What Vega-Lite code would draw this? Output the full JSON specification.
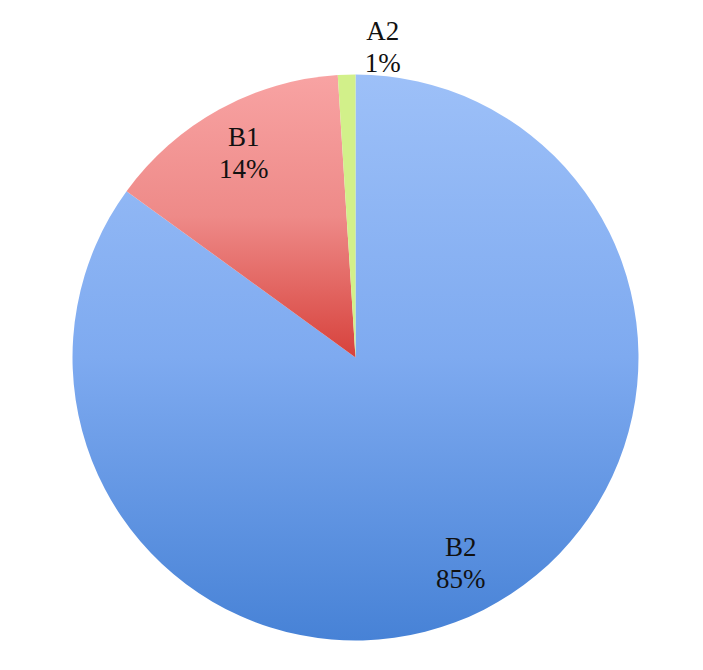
{
  "$schema": "https://vega.github.io/schema/vega-lite/v6.json",
  "autosize": {"type": "fit", "contains": "padding"},
  "width": 703,
  "height": 670,
  "padding": {"left": 8, "right": 0, "top": 40, "bottom": 0},
  "background": "white",
  "view": {"stroke": null},
  "data": {"values": [
    {"cat": "B2", "pct": 85, "ord": 1},
    {"cat": "B1", "pct": 14, "ord": 2},
    {"cat": "A2", "pct": 1, "ord": 3}
  ]},
  "transform": [
    {"calculate": "datum.cat + '\\n' + datum.pct + '%'", "as": "label"}
  ],
  "encoding": {
    "theta": {"field": "pct", "type": "quantitative", "stack": true},
    "order": {"field": "ord", "type": "quantitative"}
  },
  "layer": [
    {
      "mark": {"type": "arc", "outerRadius": 283, "stroke": null},
      "encoding": {
        "fill": {
          "condition": [
            {"test": "datum.cat === 'B2'", "value": {"gradient": "linear", "x1": 0, "y1": 0, "x2": 0, "y2": 1, "stops": [{"offset": 0, "color": "#9dc0f8"}, {"offset": 0.5, "color": "#7eaaf0"}, {"offset": 1, "color": "#4782d6"}]}},
            {"test": "datum.cat === 'B1'", "value": {"gradient": "linear", "x1": 0, "y1": 0, "x2": 0, "y2": 1, "stops": [{"offset": 0, "color": "#f8a3a3"}, {"offset": 0.5, "color": "#ee8a88"}, {"offset": 1, "color": "#d7423c"}]}}
          ],
          "value": "#d2f08a"
        }
      }
    },
    {
      "mark": {"type": "text", "radius": 232, "dy": -16, "font": "Liberation Serif, Times New Roman, serif", "fontSize": 27, "lineBreak": "\n", "lineHeight": 32, "align": "center", "baseline": "middle", "color": "#111111"},
      "encoding": {
        "text": {"condition": {"test": "datum.cat !== 'A2'", "field": "label"}, "value": ""}
      }
    },
    {
      "mark": {"type": "text", "radius": 310, "dx": 37, "dy": -16, "font": "Liberation Serif, Times New Roman, serif", "fontSize": 27, "lineBreak": "\n", "lineHeight": 32, "align": "center", "baseline": "middle", "color": "#111111"},
      "encoding": {
        "text": {"condition": {"test": "datum.cat === 'A2'", "field": "label"}, "value": ""}
      }
    }
  ]
}
